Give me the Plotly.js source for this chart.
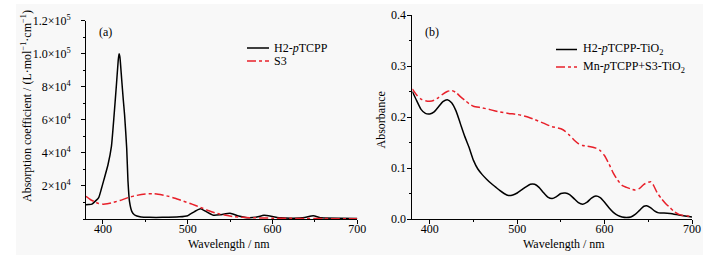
<!DOCTYPE html>
<html><head><meta charset="utf-8">
<script src="https://cdn.plot.ly/plotly-3.0.1.min.js"></script>
<style>html,body{margin:0;padding:0;background:#fff}</style>
</head><body><div id="chart" style="width:726px;height:261px"></div>
<script>
// ---- Panel (a) data ----
const wlA_H2 = [380,383,387,391,395,398,401,406,410,413,416,418,419,420,422,424,425.5,428,429.5,431.3,434,437,440,445,455,470,490,500,508,515,520,530,538,550,560,570,580,590,600,610,625,638,648,658,680,700];
const absA_H2 = [8600,8700,9000,10800,13000,18000,23500,33000,44000,62000,82000,96000,100000,98000,85000,72000,63000,43000,23000,10600,4600,2600,1800,1200,1000,1000,1300,2000,4500,6200,5000,2300,2500,3500,1800,800,1000,2200,1500,700,500,900,1900,700,400,300];
const wlA_S3 = [380,385,390,395,400,405,410,420,430,440,450,458,465,475,485,495,505,515,525,535,545,555,565,580,600,630,660,700];
const absA_S3 = [13700,11800,10500,9400,9000,9200,9800,11200,13000,14300,15100,15300,15000,14000,12600,10800,9000,7000,5000,3300,2200,1400,1000,700,500,350,250,150];
// ---- Panel (b) data ----
const wlB_H2 = [380,385,390,395,400,405,410,415,420,425,430,435,440,445,450,455,460,465,470,475,480,485,490,495,500,505,510,515,520,525,530,535,540,545,550,555,560,565,570,575,580,585,590,595,600,605,610,615,620,625,630,635,640,645,648,652,657,662,668,675,685,692,700];
const absB_H2 = [0.250,0.232,0.215,0.207,0.206,0.210,0.220,0.230,0.234,0.228,0.212,0.187,0.162,0.140,0.115,0.098,0.087,0.078,0.070,0.063,0.056,0.050,0.046,0.047,0.051,0.057,0.063,0.068,0.068,0.062,0.052,0.043,0.040,0.044,0.050,0.051,0.048,0.040,0.032,0.029,0.033,0.041,0.045,0.042,0.033,0.022,0.013,0.007,0.004,0.003,0.004,0.009,0.017,0.025,0.026,0.023,0.016,0.012,0.012,0.011,0.008,0.006,0.004];
const wlB_Mn = [380,385,390,395,400,405,410,415,420,425,430,435,440,445,450,460,470,480,490,500,510,520,530,540,550,555,560,565,570,575,580,590,595,600,605,610,615,620,625,630,635,640,645,650,653,656,660,665,670,675,680,685,690,695,700];
const absB_Mn = [0.255,0.243,0.235,0.232,0.231,0.233,0.238,0.245,0.250,0.252,0.248,0.240,0.233,0.226,0.221,0.218,0.214,0.210,0.207,0.205,0.201,0.195,0.188,0.181,0.177,0.172,0.164,0.155,0.148,0.144,0.143,0.139,0.134,0.124,0.108,0.090,0.076,0.066,0.062,0.059,0.057,0.060,0.068,0.072,0.073,0.066,0.052,0.040,0.030,0.022,0.014,0.009,0.007,0.006,0.005];
// ---- names & ticks ----
const namesA = ['H2-<i>p</i>TCPP','S3'];
const namesB = ['H2-<i>p</i>TCPP-TiO<sub>2</sub>','Mn-<i>p</i>TCPP+S3-TiO<sub>2</sub>'];
const xTicks = [400,500,600,700];
const yTicksA = [20000,40000,60000,80000,100000,120000];
const yTickTextA = ['2×10<sup>4</sup>','4×10<sup>4</sup>','6×10<sup>4</sup>','8×10<sup>4</sup>','1.0×10<sup>5</sup>','1.2×10<sup>5</sup>'];
const yTicksB = [0,0.1,0.2,0.3,0.4];
const yTickTextB = ['0.0','0.1','0.2','0.3','0.4'];
const xTitle = 'Wavelength / nm';
const yTitleA = 'Absorption coefficient / (L·mol<sup>−1</sup>·cm<sup>−1</sup>)';
const yTitleB = 'Absorbance';

const BLACK = '#000000', RED = '#e8202a';
const FONT = '"Liberation Serif", "Times New Roman", serif';
const W = 726, H = 261, ML = 86, MR = 34, MT = 15, MB = 42;
const PW = W - ML - MR, PH = H - MT - MB;
const px = x => (x - ML) / PW;
const py = y => (H - MB - y) / PH;

const traces = [
  {x: wlA_H2, y: absA_H2, xaxis:'x', yaxis:'y', mode:'lines', name:namesA[0], line:{color:BLACK, width:1.5, shape:'spline', smoothing:0.5}},
  {x: wlA_S3, y: absA_S3, xaxis:'x', yaxis:'y', mode:'lines', name:namesA[1], line:{color:RED, width:1.5, dash:'dashdot', shape:'spline', smoothing:0.6}},
  {x: wlB_H2, y: absB_H2, xaxis:'x2', yaxis:'y2', mode:'lines', name:namesB[0], line:{color:BLACK, width:1.5, shape:'spline', smoothing:0.6}},
  {x: wlB_Mn, y: absB_Mn, xaxis:'x2', yaxis:'y2', mode:'lines', name:namesB[1], line:{color:RED, width:1.5, dash:'dashdot', shape:'spline', smoothing:0.6}}
];

const axBase = {showgrid:false, zeroline:false, showline:true, linecolor:'#000', linewidth:1, ticks:'outside', ticklen:4, tickwidth:1, tickcolor:'#000', tickfont:{family:FONT, size:12, color:'#000'}, mirror:false};
const leftDom = (H - MB - 20.7) / PH;

const layout = {
  width: W, height: H,
  margin: {l:ML, r:MR, t:MT, b:MB, pad:0},
  paper_bgcolor:'#ffffff', plot_bgcolor:'rgba(0,0,0,0)',
  showlegend:false,
  font:{family:FONT, size:12, color:'#000'},
  xaxis: Object.assign({}, axBase, {domain:[0, px(357.3)], range:[380,700], anchor:'y', tickmode:'array', tickvals:xTicks, ticklabelstandoff:-5,
    minor:{ticks:'outside', ticklen:2, tickmode:'linear', tick0:350, dtick:100, tickcolor:'#000'}}),
  yaxis: Object.assign({}, axBase, {domain:[0, leftDom], range:[0,120000], anchor:'x', tickmode:'array', tickvals:yTicksA, ticktext:yTickTextA, ticklabelstandoff:8,
    minor:{ticks:'outside', ticklen:2, tickmode:'linear', tick0:0, dtick:10000, tickcolor:'#000'}}),
  xaxis2: Object.assign({}, axBase, {domain:[px(412.3), 1], range:[380,700], anchor:'y2', tickmode:'array', tickvals:xTicks, ticklabelstandoff:-5,
    minor:{ticks:'outside', ticklen:2, tickmode:'linear', tick0:350, dtick:100, tickcolor:'#000'}}),
  yaxis2: Object.assign({}, axBase, {domain:[0,1], range:[0,0.4], anchor:'x2', tickmode:'array', tickvals:yTicksB, ticktext:yTickTextB, ticklabelstandoff:-1,
    minor:{ticks:'outside', ticklen:2, tickmode:'linear', tick0:0.05, dtick:0.1, tickcolor:'#000'}}),
  shapes: [
    {type:'rect', xref:'paper', yref:'paper', x0:px(16), x1:px(703), y0:py(255), y1:py(4), fillcolor:'#f8f8f8', line:{width:0}, layer:'below'},
    {type:'line', xref:'paper', yref:'paper', x0:px(247), x1:px(269), y0:py(48), y1:py(48), line:{color:BLACK, width:1.5}},
    {type:'line', xref:'paper', yref:'paper', x0:px(247), x1:px(269), y0:py(61), y1:py(61), line:{color:RED, width:1.5, dash:'dashdot'}},
    {type:'line', xref:'paper', yref:'paper', x0:px(556), x1:px(577), y0:py(49.5), y1:py(49.5), line:{color:BLACK, width:1.5}},
    {type:'line', xref:'paper', yref:'paper', x0:px(556), x1:px(577), y0:py(67), y1:py(67), line:{color:RED, width:1.5, dash:'dashdot'}}
  ],
  annotations: [
    {text:namesA[0], xref:'paper', yref:'paper', x:px(272), y:py(48), xanchor:'left', yanchor:'middle', showarrow:false, font:{family:FONT, size:12}},
    {text:namesA[1], xref:'paper', yref:'paper', x:px(272), y:py(61), xanchor:'left', yanchor:'middle', showarrow:false, font:{family:FONT, size:12}},
    {text:namesB[0], xref:'paper', yref:'paper', x:px(581), y:py(49.5), xanchor:'left', yanchor:'middle', showarrow:false, font:{family:FONT, size:12}},
    {text:namesB[1], xref:'paper', yref:'paper', x:px(581), y:py(67), xanchor:'left', yanchor:'middle', showarrow:false, font:{family:FONT, size:12}},
    {text:'(a)', xref:'paper', yref:'paper', x:px(105.5), y:py(32), xanchor:'center', yanchor:'middle', showarrow:false, font:{family:FONT, size:12}},
    {text:'(b)', xref:'paper', yref:'paper', x:px(432), y:py(32), xanchor:'center', yanchor:'middle', showarrow:false, font:{family:FONT, size:12}},
    {text:xTitle, xref:'paper', yref:'paper', x:px(229), y:py(244), xanchor:'center', yanchor:'middle', showarrow:false, font:{family:FONT, size:12}},
    {text:xTitle, xref:'paper', yref:'paper', x:px(564), y:py(244), xanchor:'center', yanchor:'middle', showarrow:false, font:{family:FONT, size:12}},
    {text:yTitleA, xref:'paper', yref:'paper', x:px(26), y:py(106), xanchor:'center', yanchor:'middle', textangle:-90, showarrow:false, font:{family:FONT, size:12}},
    {text:yTitleB, xref:'paper', yref:'paper', x:px(380.5), y:py(120), xanchor:'center', yanchor:'middle', textangle:-90, showarrow:false, font:{family:FONT, size:12}}
  ]
};
Plotly.newPlot('chart', traces, layout, {displayModeBar:false, staticPlot:true});
</script></body></html>
